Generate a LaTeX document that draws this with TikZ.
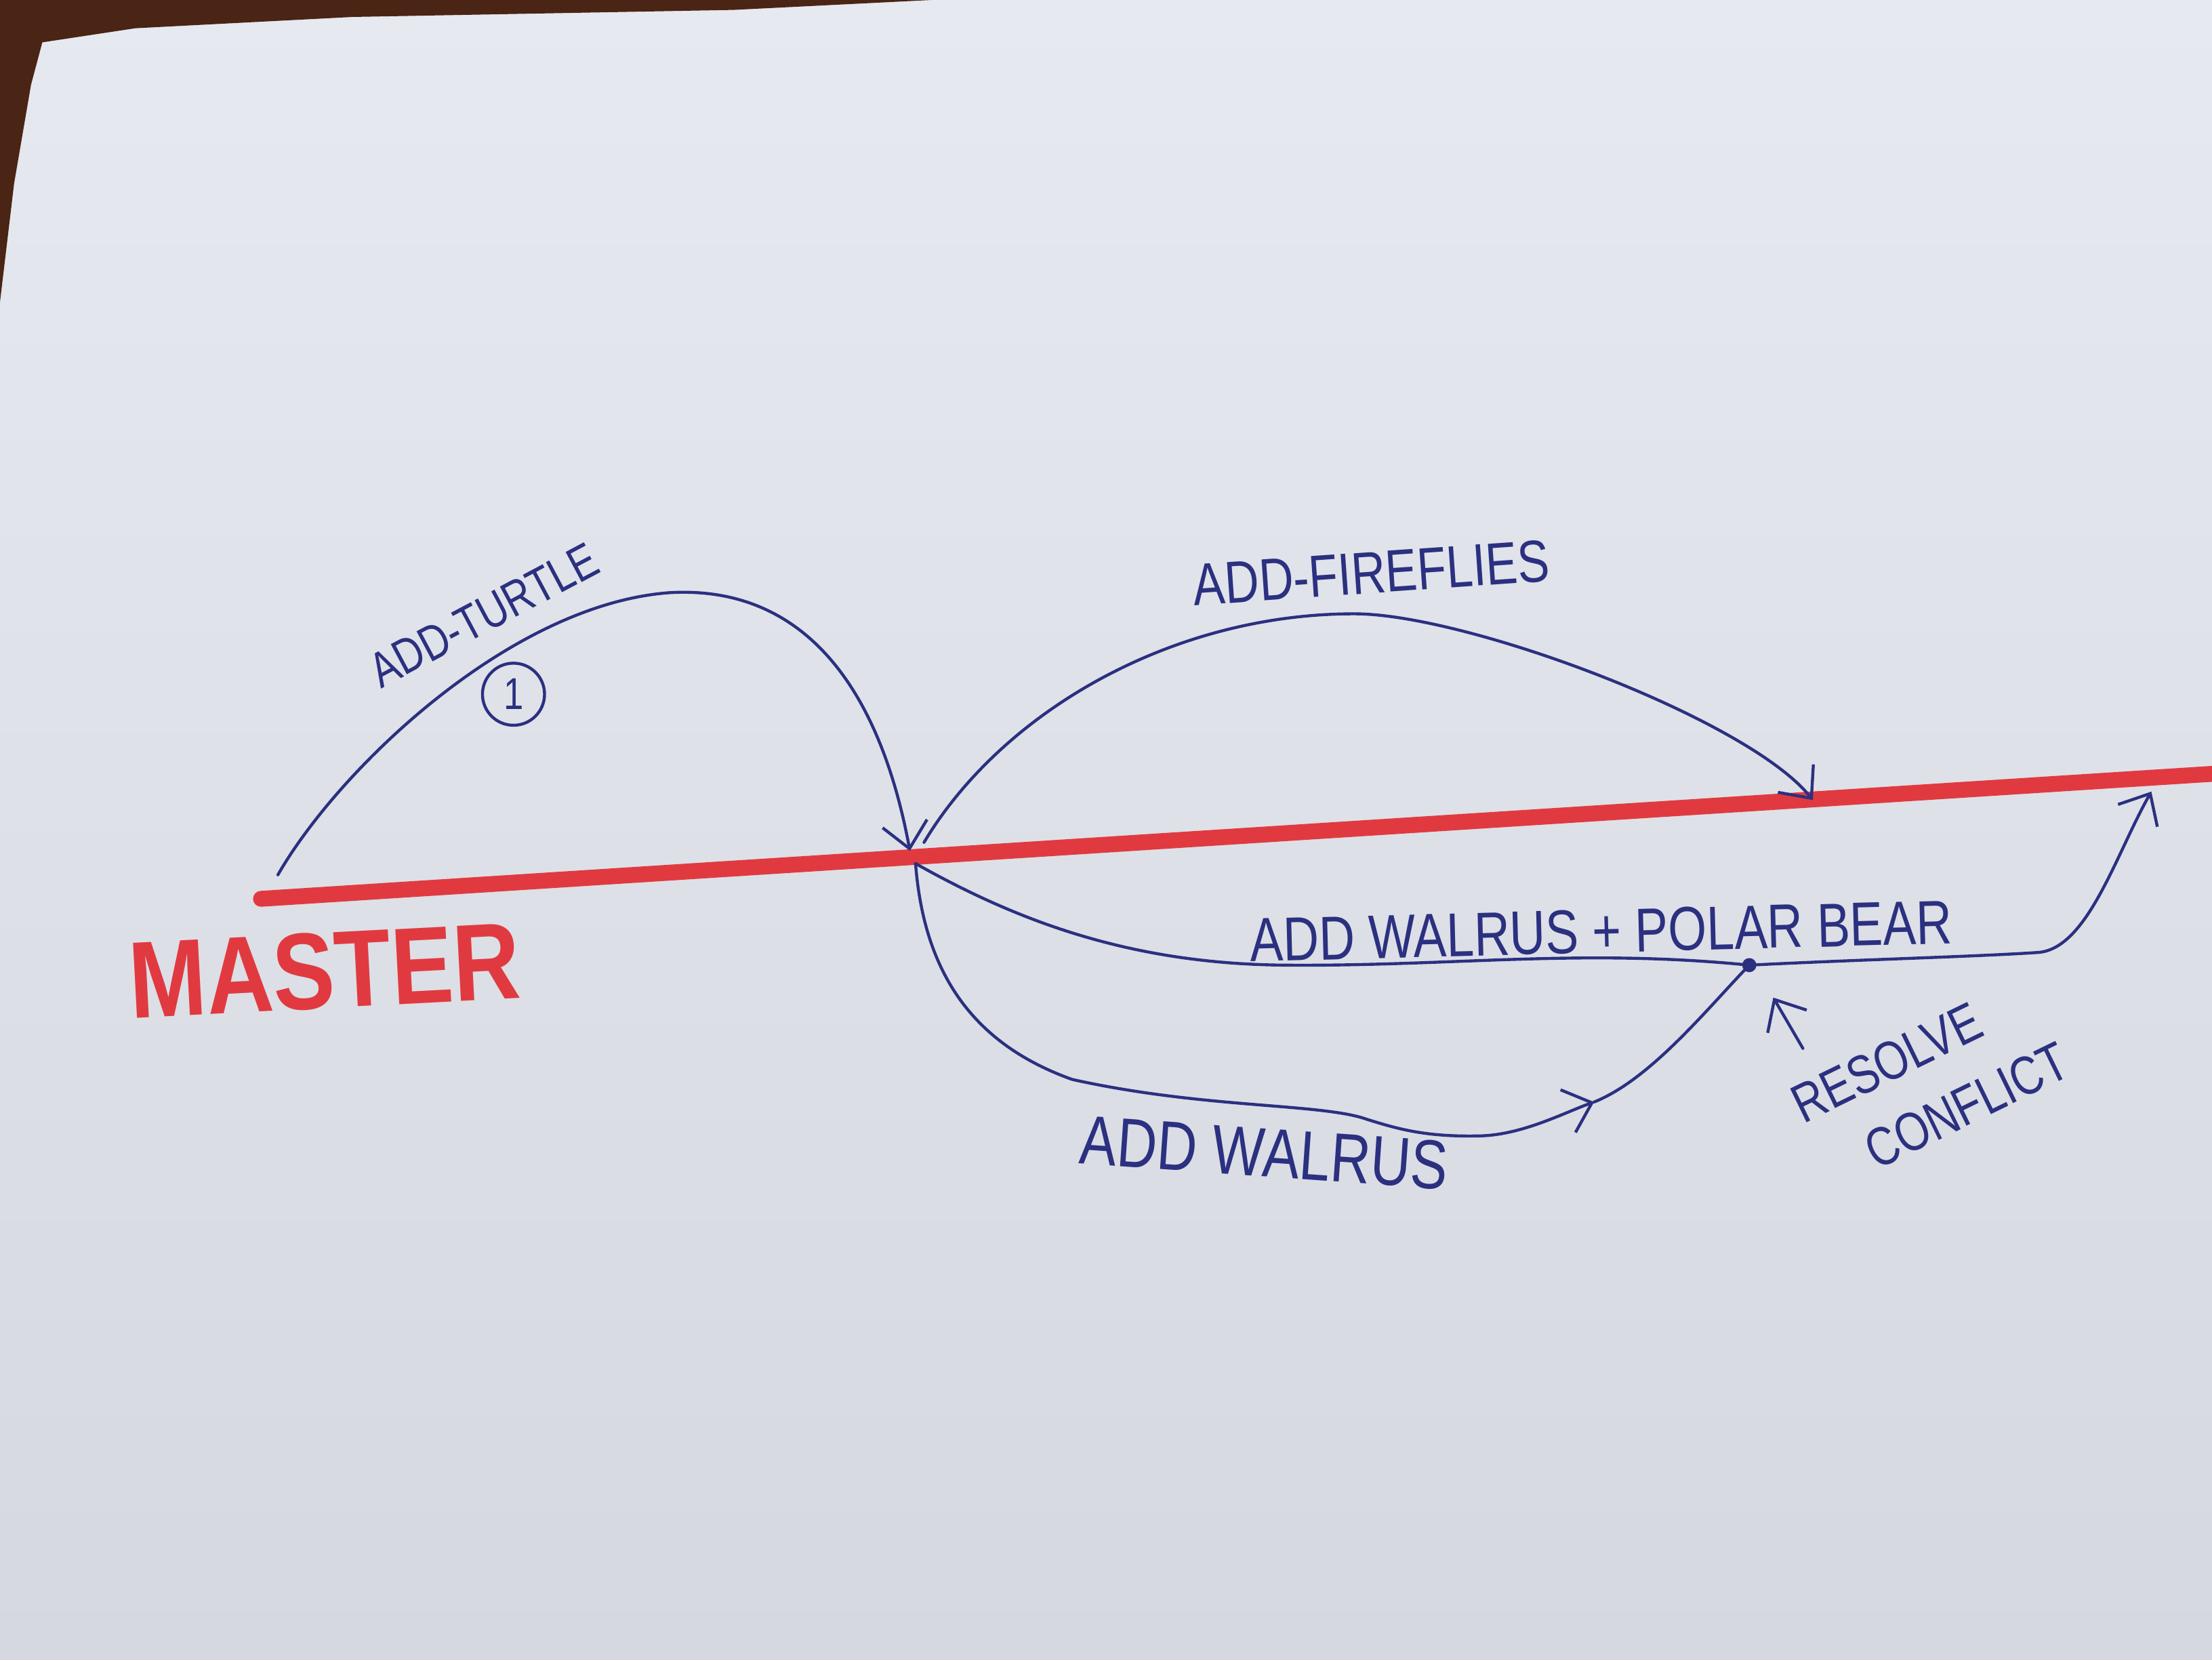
\documentclass[tikz,border=0pt]{standalone}
\usepackage{fontspec}
\usetikzlibrary{arrows.meta}
\newfontfamily\hand[FakeStretch=0.8]{Liberation Sans}
\newfontfamily\markerfont[FakeStretch=0.85]{Liberation Sans}
\definecolor{paperhi}{HTML}{E6E9EF}
\definecolor{paperlo}{HTML}{D5D8DF}
\definecolor{inkc}{HTML}{2B3080}
\definecolor{markerc}{HTML}{E03A40}
\definecolor{woodc}{HTML}{4A2414}
\begin{document}
\begin{tikzpicture}[x=0.1mm,y=-0.1mm,
  ink/.style={draw=inkc, line width=0.6pt, line cap=round, line join=round},
  tip/.style={-{Straight Barb[length=1.8mm,width=3.2mm]}},
  redline/.style={draw=markerc, line width=3.2pt, line cap=round},
  lbl/.style={text=inkc, inner sep=0pt}]
\useasboundingbox (0,0) rectangle (1568,1176);
% paper and table
\shade[top color=paperhi, bottom color=paperlo] (0,0) rectangle (1568,1176);
\fill[woodc] (0,0) -- (660,0) -- (520,7) -- (250,12) -- (96,20) -- (30,30) -- (22,60) -- (10,130) -- (0,214) -- cycle;

% coordinates
\coordinate (r0) at (185,637);
\coordinate (r1) at (1575,548);
\coordinate (tstart) at (197,620);
\coordinate (merge) at (645,603);
\coordinate (fstart) at (655,597);
\coordinate (fend) at (1285,567);
\coordinate (fork) at (649,612);
\coordinate (dot) at (1240,684);
\coordinate (pend) at (1525,561);
\coordinate (wa) at (1130,781);
\coordinate (ptail) at (1278,743);
\coordinate (phead) at (1257,707);

% master line
\draw[redline] (r0) -- (r1);
\node[text=markerc, inner sep=0pt, rotate=3,
      font=\markerfont\bfseries\fontsize{22}{24}\selectfont] (master) at (230,688) {MASTER};

% add-turtle
\draw[ink, tip] (tstart) .. controls (240,545) and (362,428) .. (475,420)
                .. controls (565,415) and (622,480) .. (merge);
\node[lbl, rotate=28, font=\hand\fontsize{10}{12}\selectfont] (turtle) at (343,436) {ADD-TURTLE};
\node[draw=inkc, circle, line width=0.6pt, minimum size=4.4mm, inner sep=0pt, text=inkc,
      font=\hand\fontsize{9}{10}\selectfont] (one) at (364,492) {1};

% add-fireflies
\draw[ink, tip] (fstart) .. controls (710,505) and (830,435) .. (960,435)
                .. controls (1040,435) and (1240,510) .. (fend);
\node[lbl, rotate=4, font=\hand\fontsize{12}{14}\selectfont] (fireflies) at (972,406) {ADD-FIREFLIES};

% add walrus + polar bear
\draw[ink, tip] (fork) .. controls (720,652) and (800,683) .. (910,684)
                .. controls (1030,685) and (1120,672) .. (dot)
                .. controls (1320,680) and (1400,678) .. (1445,675)
                .. controls (1480,672) and (1500,605) .. (pend);
\node[lbl, rotate=1.5, font=\hand\fontsize{12.5}{14}\selectfont] (wpb) at (1135,660) {ADD WALRUS + POLAR BEAR};

% add walrus
\draw[ink, tip] (fork) .. controls (655,690) and (690,740) .. (760,765)
                .. controls (850,785) and (930,782) .. (965,792)
                .. controls (990,800) and (1010,806) .. (1050,805)
                .. controls (1080,804) and (1110,788) .. (wa);
\draw[ink] (wa) .. controls (1170,765) and (1210,715) .. (dot);
\node[lbl, rotate=-4, font=\hand\fontsize{14}{16}\selectfont] (walrus) at (896,817) {ADD WALRUS};

% merge point
\node[circle, fill=inkc, inner sep=0pt, minimum size=1mm] (dotn) at (dot) {};

% resolve conflict
\draw[ink, tip] (ptail) -- (phead);
\node[lbl, rotate=26, anchor=north west, align=left,
      font=\hand\fontsize{11}{14.8}\selectfont] (resolve) at (1266,772)
      {RESOLVE\\\hspace*{3.2mm}CONFLICT};
\end{tikzpicture}
\end{document}
